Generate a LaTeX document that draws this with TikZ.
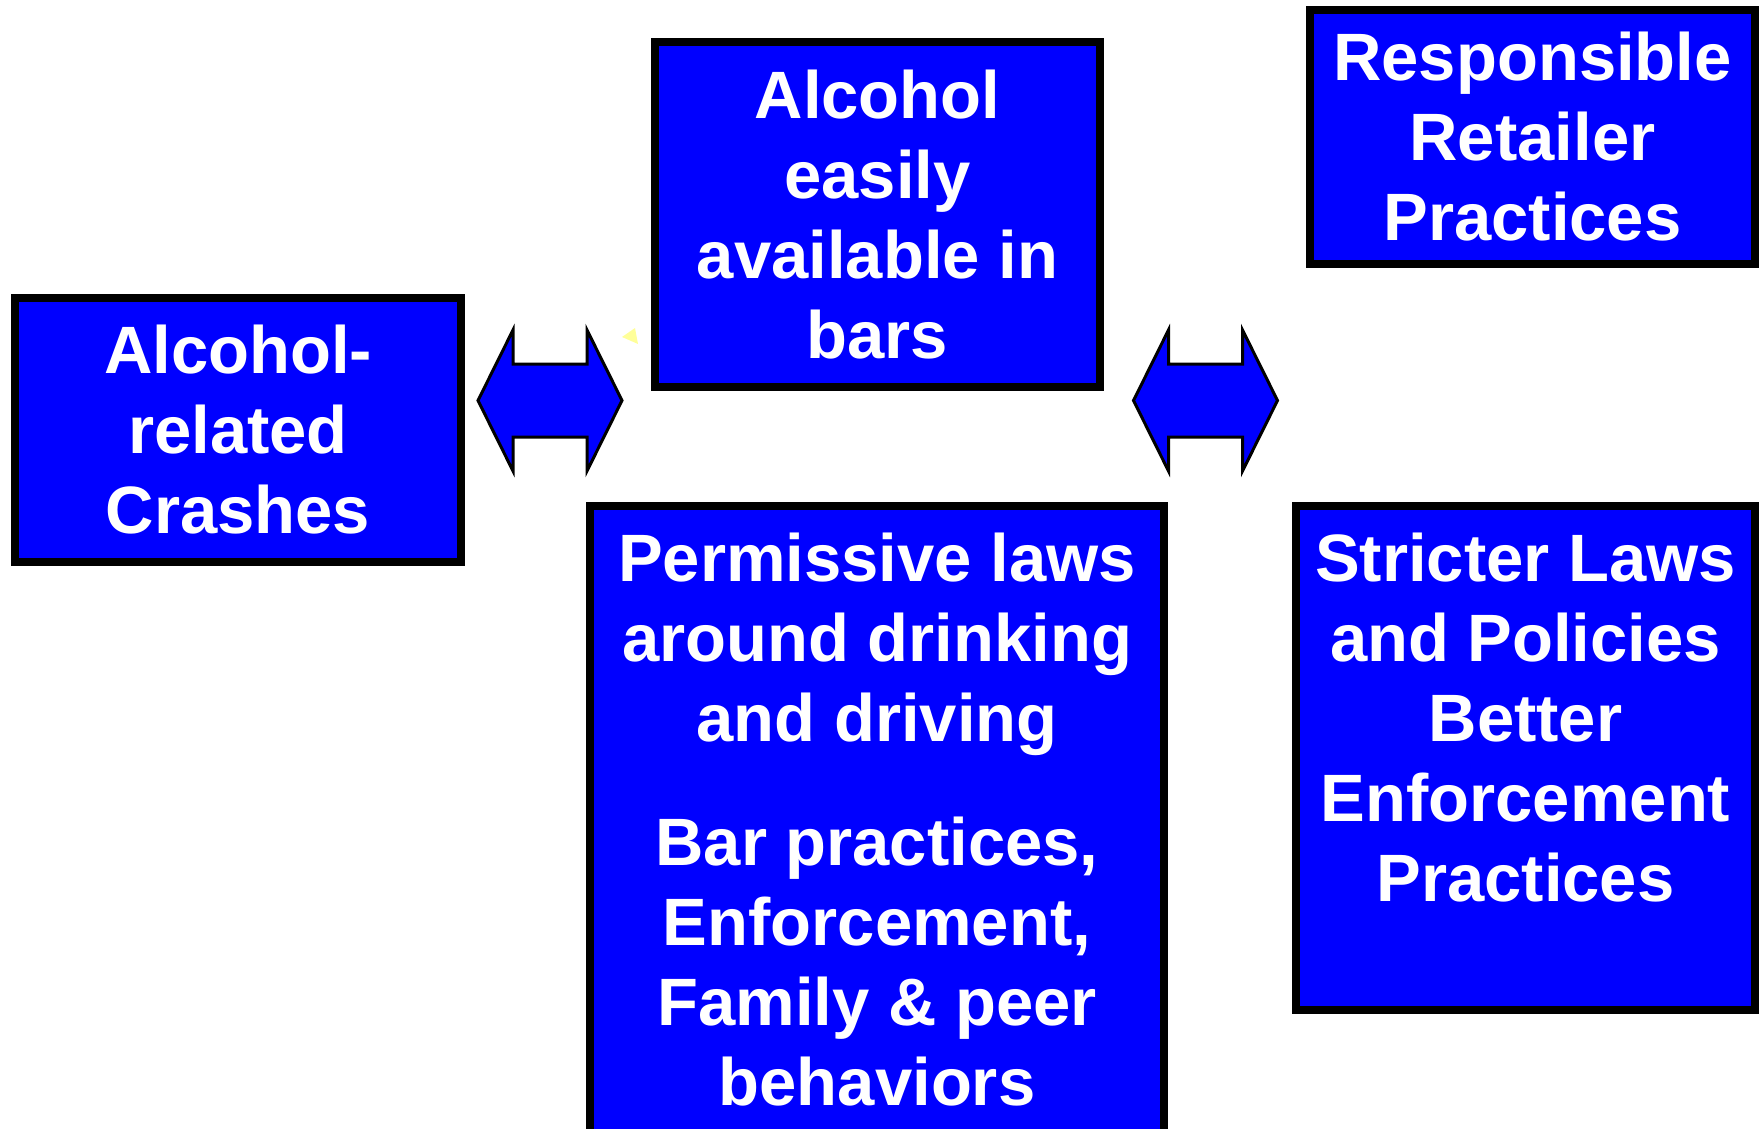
\documentclass[tikz,border=0pt]{standalone}
\usepackage{fontspec}
\setmainfont{Liberation Sans}
\definecolor{boxblue}{RGB}{0,0,255}
\definecolor{paleyellow}{RGB}{255,255,153}
\tikzset{
  factor/.style={draw=black, line width=4pt, fill=boxblue, text=white,
    font=\bfseries\fontsize{33.5}{40}\selectfont, align=center, inner sep=0pt},
  boxtext/.style={text=white, font=\bfseries\fontsize{33.5}{40}\selectfont,
    align=center, inner sep=0pt},
  blockarrow/.style={draw=black, line width=1.5pt, fill=boxblue, line join=miter}
}
\begin{document}
\begin{tikzpicture}[x=0.5pt, y=-0.5pt]
  \clip (0,0) rectangle (1761,1129);
  % problem side
  \node [factor, minimum width=223pt, minimum height=132pt] (crashes) at (238,430)
    {Alcohol-\\related\\Crashes};
  \node [factor, minimum width=222.5pt, minimum height=172.5pt] (avail) at (877.5,214.5)
    {Alcohol\\easily\\available in\\bars};
  \node [factor, minimum width=287pt, minimum height=325pt] (laws) at (877,831) {};
  \node [boxtext, anchor=north] (lawstext) at (877,533)
    {Permissive laws\\around drinking\\and driving\\[22pt]
     Bar practices,\\Enforcement,\\Family \& peer\\behaviors};
  % solution side
  \node [factor, minimum width=222.5pt, minimum height=127pt] (retail) at (1532.5,137)
    {Responsible\\Retailer\\Practices};
  \node [factor, minimum width=229.5pt, minimum height=252pt] (strict) at (1525.5,758) {};
  \node [boxtext, anchor=north] (stricttext) at (1525.5,533)
    {Stricter Laws\\and Policies\\Better\\Enforcement\\Practices};
  % double arrows
  \coordinate (leftarrow) at (550,400.5);
  \coordinate (rightarrow) at (1205.5,400.5);
  \foreach \c in {leftarrow,rightarrow}
    \draw [blockarrow] (\c) ++(-72,0) -- ++(35,-70.5) -- ++(0,34) -- ++(74,0)
      -- ++(0,-34) -- ++(35,70.5) -- ++(-35,70.5) -- ++(0,-34) -- ++(-74,0)
      -- ++(0,34) -- cycle;
  \fill [paleyellow] (622,337) -- (635,328) -- (638,344) -- cycle;
\end{tikzpicture}
\end{document}
